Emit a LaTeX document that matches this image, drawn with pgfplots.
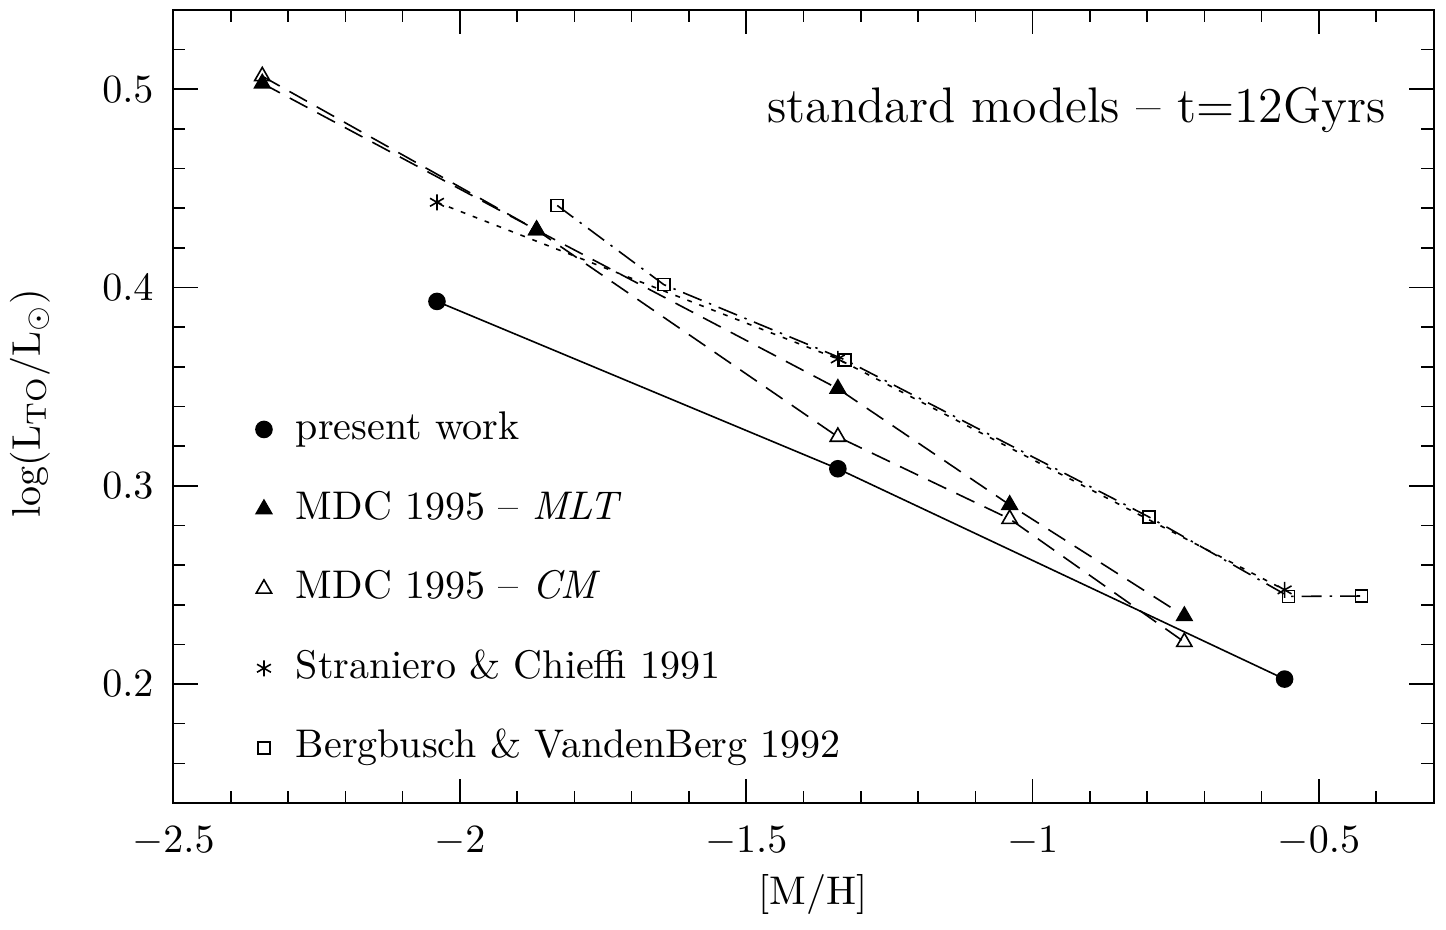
\documentclass[border=0pt]{standalone}
\usepackage{pgfplots}
\pgfplotsset{compat=1.18}
\begin{document}
\begin{tikzpicture}
\begin{axis}[
  scale only axis, width=315pt, height=198.25pt,
  xmin=-2.5, xmax=-0.3, ymin=0.14, ymax=0.54,
  xtick={-2.5,-2,-1.5,-1,-0.5},
  ytick={0.2,0.3,0.4,0.5},
  minor xtick={-2.4,-2.3,-2.2,-2.1,-1.9,-1.8,-1.7,-1.6,-1.4,-1.3,-1.2,-1.1,-0.9,-0.8,-0.7,-0.6,-0.4},
  minor ytick={0.16,0.18,0.22,0.24,0.26,0.28,0.32,0.34,0.36,0.38,0.42,0.44,0.46,0.48,0.52},
  tick align=inside, major tick length=6pt, minor tick length=3pt,
  tick style={black, line width=0.4pt},
  axis line style={line width=0.5pt},
  xticklabel style={yshift=-2.5pt},
  yticklabel style={xshift=-1.5pt},
  xlabel={[M/H]},
  ylabel={$\log(\mathrm{L_{TO}}/\mathrm{L_{\odot}})$},
  xlabel style={at={(axis description cs:0.5075,-0.1148)}, anchor=center},
  ylabel style={at={(axis description cs:-0.114,0.504)}, anchor=center},
  legend style={at={(axis cs:-2.356,0.3375)}, anchor=north west, draw=none, fill=none,
    inner sep=0pt, outer sep=0pt, row sep=10.9pt, column sep=6pt,
    nodes={inner sep=0pt, text height=7pt, text depth=2pt}},
  legend cell align=left,
  legend image code/.code={\draw[#1] plot coordinates {(0pt,0pt)};},
]
\addplot[black, line width=0.4pt, mark=*, mark size=2pt] coordinates {
  (-2.04,0.393) (-1.34,0.3086) (-0.56,0.2025)};
\addlegendentry{present work}
\addplot[black, line width=0.4pt, dash pattern=on 5pt off 2.8pt, mark=triangle*, mark size=2.2pt, mark options={solid}] coordinates {
  (-2.345,0.503) (-1.866,0.429) (-1.34,0.349) (-1.04,0.2904) (-0.735,0.2343)};
\addlegendentry{MDC 1995 -- \textit{MLT}}
\addplot[black, line width=0.4pt, dash pattern=on 5pt off 2.8pt, mark=triangle, mark size=2.2pt, mark options={solid}] coordinates {
  (-2.345,0.5066) (-1.866,0.429) (-1.34,0.3247) (-1.04,0.2833) (-0.735,0.2212)};
\addlegendentry{MDC 1995 -- \textit{CM}}
\addplot[black, line width=0.4pt, dash pattern=on 1.2pt off 2pt, mark=asterisk, mark size=2pt, mark options={solid}] coordinates {
  (-2.04,0.443) (-1.34,0.364) (-0.56,0.2475)};
\addlegendentry{Straniero \& Chieffi 1991}
\addplot[black, line width=0.4pt, dash pattern=on 5pt off 2pt on 0.6pt off 2pt, mark=square, mark size=1.5pt, mark options={solid}] coordinates {
  (-1.83,0.4414) (-1.644,0.4015) (-1.328,0.3636) (-0.797,0.2843) (-0.553,0.2442) (-0.4255,0.2444)};
\addlegendentry{Bergbusch \& VandenBerg 1992}
\node[anchor=base east, inner sep=0pt, font=\fontsize{12.5}{15}\selectfont] at (axis cs:-0.3815,0.4833) {standard models -- t=12Gyrs};
\end{axis}
\pgfresetboundingbox
\path (-43.375pt,-31.75pt) rectangle (318.125pt,200.75pt);
\end{tikzpicture}
\end{document}
